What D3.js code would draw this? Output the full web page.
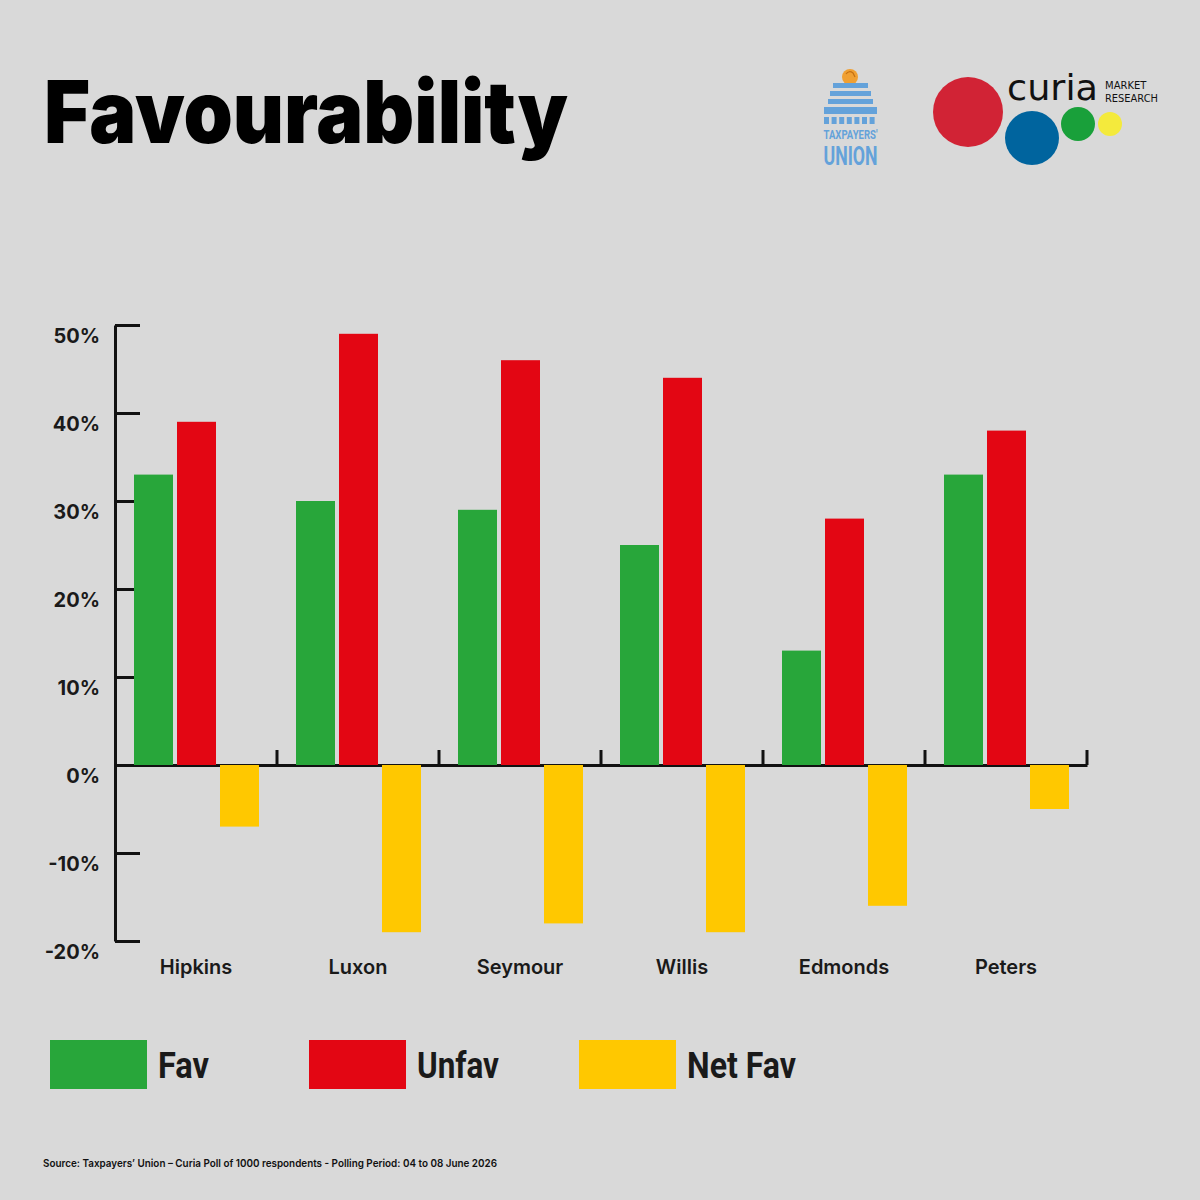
<!DOCTYPE html>
<html>
<head>
<meta charset="utf-8">
<script src="https://cdn.jsdelivr.net/npm/d3@7"></script>
<style>
  body { margin: 0; background: #d9d9d9; }
  svg { display: block; }
</style>
</head>
<body>
<script>
const names = ["Hipkins", "Luxon", "Seymour", "Willis", "Edmonds", "Peters"];
const fav = [33, 30, 29, 25, 13, 33];
const unfav = [39, 49, 46, 44, 28, 38];
const netFav = [-7, -19, -18, -19, -16, -5];
const yTicks = [-20, -10, 0, 10, 20, 30, 40, 50];
const seriesKeys = ["fav", "unfav", "net"];
const seriesLabels = ["Fav", "Unfav", "Net Fav"];
const colors = ["#28a63a", "#e30613", "#ffc800"];

const width = 1200, height = 1200;
const svg = d3.select("body").append("svg")
    .attr("width", width)
    .attr("height", height);

svg.append("rect").attr("width", width).attr("height", height).attr("fill", "#d9d9d9");

// title
svg.append("text")
    .attr("x", 44).attr("y", 143)
    .attr("font-family", "Inter, 'Liberation Sans', sans-serif")
    .attr("font-weight", 900)
    .attr("font-size", 86)
    .attr("textLength", 524)
    .attr("lengthAdjust", "spacingAndGlyphs")
    .attr("fill", "#000")
    .text("Favourability");

// scales
const x = d3.scaleBand().domain(names).range([115, 1087]);
const xInner = d3.scaleBand().domain(seriesKeys).range([19, 144]).paddingInner(0.093);
const y = d3.scaleLinear().domain([-20, 50]).range([941, 325]);

// y axis, ticks pointing inward
const yAxis = d3.axisLeft(y)
    .tickValues(yTicks)
    .tickFormat(d => d + "%")
    .tickSize(-25)
    .tickSizeOuter(0)
    .tickPadding(15);

const gy = svg.append("g")
    .attr("transform", "translate(115,0)")
    .call(yAxis);
gy.select(".domain").attr("stroke", "#111").attr("stroke-width", 3);
gy.selectAll(".tick line").attr("stroke", "#111").attr("stroke-width", 3);
gy.selectAll(".tick text")
    .attr("dy", "0.85em")
    .attr("fill", "#1a1a1a")
    .attr("font-family", "Inter, 'Liberation Sans', sans-serif")
    .attr("font-weight", 700)
    .attr("font-size", 20);

// x axis along zero line
const gx = svg.append("g")
    .attr("transform", `translate(0,${y(0)})`)
    .call(d3.axisBottom(x).tickSize(0).tickPadding(195));
gx.select(".domain").attr("stroke", "#111").attr("stroke-width", 3);
gx.selectAll(".tick text")
    .attr("fill", "#1a1a1a")
    .attr("font-family", "Inter, 'Liberation Sans', sans-serif")
    .attr("font-weight", 600)
    .attr("font-size", 20);

// boundary ticks between groups
const bounds = names.slice(1).map(n => x(n)).concat([x.range()[1]]);
gx.selectAll(".bound")
    .data(bounds)
    .join("line")
    .attr("class", "bound")
    .attr("x1", d => d).attr("x2", d => d)
    .attr("y1", 0).attr("y2", -15)
    .attr("stroke", "#111")
    .attr("stroke-width", 3);

// bars
const rows = names.map((n, i) => ({ name: n, values: [fav[i], unfav[i], netFav[i]] }));
const groups = svg.selectAll(".grp")
    .data(rows)
    .join("g")
    .attr("class", "grp")
    .attr("transform", d => `translate(${x(d.name)},0)`);

groups.selectAll("rect")
    .data(d => d.values.map((v, j) => ({ key: seriesKeys[j], v: v, c: colors[j] })))
    .join("rect")
    .attr("x", d => xInner(d.key))
    .attr("width", xInner.bandwidth())
    .attr("y", d => y(Math.max(0, d.v)))
    .attr("height", d => Math.abs(y(d.v) - y(0)))
    .attr("fill", d => d.c);

// legend
const legendX = [50, 309, 579];
const legendW = [51, 82, 109];
const legend = svg.selectAll(".leg")
    .data(seriesLabels)
    .join("g")
    .attr("class", "leg")
    .attr("transform", (d, i) => `translate(${legendX[i]},1040)`);
legend.append("rect")
    .attr("width", 97).attr("height", 49)
    .attr("fill", (d, i) => colors[i]);
legend.append("text")
    .attr("x", 108).attr("y", 38)
    .attr("font-family", "Roboto, sans-serif")
    .attr("font-weight", 700)
    .attr("font-size", 37)
    .attr("textLength", (d, i) => legendW[i])
    .attr("lengthAdjust", "spacingAndGlyphs")
    .attr("fill", "#1a1a1a")
    .text(d => d);

// source line
svg.append("text")
    .attr("x", 43).attr("y", 1167)
    .attr("font-family", "Inter, 'Liberation Sans', sans-serif")
    .attr("font-weight", 600)
    .attr("font-size", 10.5)
    .attr("textLength", 454)
    .attr("lengthAdjust", "spacingAndGlyphs")
    .attr("fill", "#111")
    .text("Source: Taxpayers\u2019 Union \u2013 Curia Poll of 1000 respondents - Polling Period: 04 to 08 June 2026");

// Taxpayers' Union logo
const tu = svg.append("g");
const tuBlue = "#64a2da";
tu.append("circle").attr("cx", 850).attr("cy", 77).attr("r", 8).attr("fill", "#f0a033");
tu.append("path").attr("d", "M846,74 q3,-4 7,-1 l2,4").attr("fill", "none").attr("stroke", "#c46f12").attr("stroke-width", 1.2);
const tuBars = [[833, 83, 35, 5], [830, 91, 41, 5], [828, 99, 45, 5], [824, 107, 53, 7]];
tuBars.forEach(b => tu.append("rect").attr("x", b[0]).attr("y", b[1]).attr("width", b[2]).attr("height", b[3]).attr("fill", tuBlue));
d3.range(7).forEach(k => tu.append("rect").attr("x", 824 + k * 7.6).attr("y", 117).attr("width", 5).attr("height", 7).attr("fill", tuBlue));
tu.append("text").attr("x", 850.5).attr("y", 139).attr("text-anchor", "middle")
    .attr("font-family", "Roboto, sans-serif").attr("font-weight", 700)
    .attr("font-size", 12).attr("textLength", 54).attr("lengthAdjust", "spacingAndGlyphs")
    .attr("fill", tuBlue).text("TAXPAYERS'");
tu.append("text").attr("x", 850.5).attr("y", 165).attr("text-anchor", "middle")
    .attr("font-family", "Roboto, sans-serif").attr("font-weight", 700)
    .attr("font-size", 25).attr("textLength", 54).attr("lengthAdjust", "spacingAndGlyphs")
    .attr("fill", tuBlue).text("UNION");

// Curia logo
const cu = svg.append("g");
[[968, 112, 35, "#d12335"], [1032, 138, 27, "#00649e"], [1078, 124, 17, "#19a03a"], [1110, 124, 12, "#f4ea3c"]]
    .forEach(c => cu.append("circle").attr("cx", c[0]).attr("cy", c[1]).attr("r", c[2]).attr("fill", c[3]));
cu.append("text").attr("x", 1007).attr("y", 100)
    .attr("font-family", "'DejaVu Sans', sans-serif").attr("font-size", 36)
    .attr("textLength", 91).attr("lengthAdjust", "spacingAndGlyphs")
    .attr("fill", "#111").text("curia");
cu.append("text").attr("x", 1105).attr("y", 89)
    .attr("font-family", "'DejaVu Sans', sans-serif").attr("font-size", 10)
    .attr("fill", "#111").text("MARKET");
cu.append("text").attr("x", 1105).attr("y", 102)
    .attr("font-family", "'DejaVu Sans', sans-serif").attr("font-size", 10)
    .attr("textLength", 53).attr("lengthAdjust", "spacingAndGlyphs")
    .attr("fill", "#111").text("RESEARCH");
</script>
</body>
</html>
